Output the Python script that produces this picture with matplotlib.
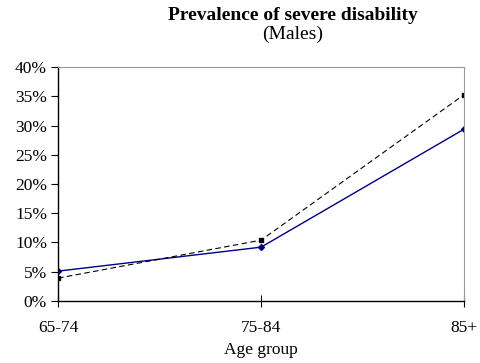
import matplotlib
matplotlib.use("Agg")
import matplotlib.pyplot as plt
from matplotlib.ticker import PercentFormatter

plt.rcParams['font.family'] = ['Liberation Serif', 'DejaVu Serif']

# data
age_groups = ['65-74', '75-84', '85+']
series_solid = [5.1, 9.2, 29.4]
series_dashed = [3.9, 10.4, 35.3]

fig = plt.figure(figsize=(4.8, 3.63), dpi=100)
ax = fig.add_axes([0.121, 0.171, 0.846, 0.644])

x = range(len(age_groups))
ax.plot(x, series_solid, color='#000080', lw=1.0, marker='D', ms=3)
ax.plot(x, series_dashed, color='black', lw=0.8, ls=(0, (5, 3)), marker='s', ms=3.5)

ax.set_xlim(0, 2)
ax.set_ylim(0, 40)
ax.set_yticks(range(0, 41, 5))
ax.yaxis.set_major_formatter(PercentFormatter(decimals=0))
ax.set_xticks(list(x))
ax.set_xticklabels(age_groups)
ax.tick_params(axis='both', direction='inout', length=8, width=0.8, labelsize=12.5)
ax.tick_params(axis='y', direction='out', length=5, pad=3)
ax.tick_params(axis='x', pad=10)

for side in ['top', 'right']:
    ax.spines[side].set_color('#999999')
for side in ['left', 'bottom']:
    ax.spines[side].set_linewidth(1.0)

ax.set_xlabel('Age group', fontsize=12.5, labelpad=4)

fig.text(0.61, 0.945, 'Prevalence of severe disability', ha='center',
         fontsize=14, fontweight='bold')
fig.text(0.61, 0.893, '(Males)', ha='center', fontsize=14)

fig.savefig('out.png', dpi=100)
